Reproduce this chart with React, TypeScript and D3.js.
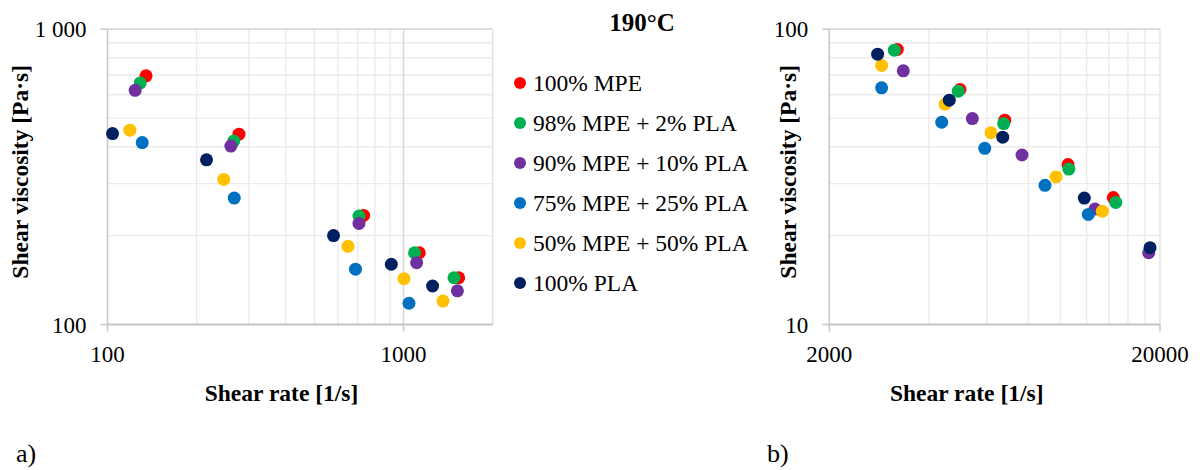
import React from 'react';
import * as d3 from 'd3';

// series (legend order = draw order)
const seriesNames = ['100% MPE', '98% MPE + 2% PLA', '90% MPE + 10% PLA', '75% MPE + 25% PLA', '50% MPE + 50% PLA', '100% PLA'];
const seriesColors = ['#FF0000', '#00B050', '#7030A0', '#0070C0', '#FFC000', '#002060'];

// panel a) shear rate [1/s] / shear viscosity [Pa·s]
const rateA = [
  [135, 278, 733, 1130, 1535],
  [129, 267, 707, 1089, 1480],
  [124, 261, 707, 1107, 1520],
  [131, 268, 688, 1043],
  [119, 247, 649, 1003, 1359],
  [104, 216, 580, 909, 1253],
];
const viscA = [
  [695, 441, 234, 175, 144],
  [658, 418, 233, 175, 144],
  [621, 402, 220, 162, 130],
  [413, 268, 154, 118],
  [455, 310, 184, 143, 120],
  [443, 361, 200, 160, 135],
];

// panel b)
const rateB = [
  [3211, 4970, 6785, 10542, 14450],
  [3145, 4910, 6735, 10600, 14700],
  [3348, 5414, 7651, 12720, 18490],
  [2879, 4375, 5903, 8980, 12140],
  [2879, 4477, 6166, 9697, 13385],
  [2800, 4612, 6690, 11806, 18660],
];
const viscB = [
  [85.4, 62.5, 49.2, 34.8, 26.9],
  [84.9, 61.7, 47.9, 33.6, 25.9],
  [72.3, 49.8, 37.5, 24.6, 17.5],
  [63.3, 48.4, 39.5, 29.6, 23.6],
  [75.4, 55.7, 44.6, 31.6, 24.2],
  [82.3, 57.5, 43.1, 26.8, 18.2],
];

// axes
const xTicksA = [100, 1000];
const xTickLabelsA = ['100', '1000'];
const yTicksA = [100, 1000];
const yTickLabelsA = ['100', '1 000'];
const xMinorA = [200, 300, 400, 500, 600, 700, 800, 900];
const yMinorA = [200, 300, 400, 500, 600, 700, 800, 900];

const xTicksB = [2000, 20000];
const xTickLabelsB = ['2000', '20000'];
const yTicksB = [10, 100];
const yTickLabelsB = ['10', '100'];
const xMinorB = [4000, 6000, 8000, 10000, 12000, 14000, 16000, 18000];
const yMinorB = [20, 30, 40, 50, 60, 70, 80, 90];

const font = '"Liberation Serif", "Times New Roman", serif';

type PanelProps = {
  left: number; right: number; top: number; bottom: number;
  xDomain: [number, number]; yDomain: [number, number];
  xTicks: number[]; xTickLabels: string[];
  yTicks: number[]; yTickLabels: string[];
  xMinor: number[]; yMinor: number[];
  xMajor: number[];
  rates: number[][]; viscs: number[][];
  xTitleX: number; yTitleX: number;
  tag: string; tagX: number;
};

function Panel(p: PanelProps) {
  const x = d3.scaleLog().domain(p.xDomain).range([p.left, p.right]);
  const y = d3.scaleLog().domain(p.yDomain).range([p.bottom, p.top]);
  const midY = (p.top + p.bottom) / 2 - 5;
  return (
    <g>
      {/* minor gridlines */}
      {p.xMinor.map(v => (
        <line key={'xm' + v} x1={x(v)} x2={x(v)} y1={p.top} y2={p.bottom} stroke="#ebebeb" strokeWidth={1.4} />
      ))}
      {p.yMinor.map(v => (
        <line key={'ym' + v} x1={p.left} x2={p.right} y1={y(v)} y2={y(v)} stroke="#ebebeb" strokeWidth={1.4} />
      ))}
      {/* major gridlines */}
      {p.xMajor.map(v => (
        <line key={'xM' + v} x1={x(v)} x2={x(v)} y1={p.top} y2={p.bottom} stroke="#d9d9d9" strokeWidth={1.5} />
      ))}
      <line x1={p.left} x2={p.right} y1={y(p.yDomain[1])} y2={y(p.yDomain[1])} stroke="#d9d9d9" strokeWidth={1.8} />
      <line x1={p.right} x2={p.right} y1={p.top} y2={p.bottom} stroke="#e3e3e3" strokeWidth={1.5} />
      {/* axes */}
      <line x1={p.left} x2={p.left} y1={p.top} y2={p.bottom} stroke="#c9c9c9" strokeWidth={1.6} />
      <line x1={p.left} x2={p.right} y1={p.bottom} y2={p.bottom} stroke="#c4c4c4" strokeWidth={1.8} />
      {p.yTicks.map(v => (
        <line key={'yt' + v} x1={p.left - 7} x2={p.left} y1={y(v)} y2={y(v)} stroke="#c9c9c9" strokeWidth={1.6} />
      ))}
      {p.xTicks.map(v => (
        <line key={'xt' + v} x1={x(v)} x2={x(v)} y1={p.bottom} y2={p.bottom + 7} stroke="#c9c9c9" strokeWidth={1.6} />
      ))}
      {p.yTicks.map((v, i) => (
        <text key={'yl' + v} x={p.left - 21} y={y(v) + 8} textAnchor="end" fontSize={23} fontFamily={font} fill="#000">
          {p.yTickLabels[i]}
        </text>
      ))}
      {p.xTicks.map((v, i) => (
        <text key={'xl' + v} x={x(v)} y={p.bottom + 37} textAnchor="middle" fontSize={23} fontFamily={font} fill="#000">
          {p.xTickLabels[i]}
        </text>
      ))}
      {/* points */}
      {p.rates.map((rs, s) => (
        <g key={'s' + s}>
          {rs.map((r, i) => (
            <circle key={i} cx={x(r)} cy={y(p.viscs[s][i])} r={6.5} fill={seriesColors[s]} />
          ))}
        </g>
      ))}
      {/* titles */}
      <text x={p.xTitleX} y={401} textAnchor="middle" fontSize={23.5} fontWeight="bold" fontFamily={font} fill="#000">
        Shear rate [1/s]
      </text>
      <text transform={`translate(${p.yTitleX},${midY}) rotate(-90)`} textAnchor="middle" fontSize={23.5} fontWeight="bold" fontFamily={font} fill="#000">
        Shear viscosity [Pa·s]
      </text>
      <text x={p.tagX} y={462} fontSize={26} fontFamily={font} fill="#000">{p.tag}</text>
    </g>
  );
}

export default function App() {
  return (
    <svg width={1200} height={470} style={{ position: 'absolute', left: 0, top: 0, background: '#fff' }}>
      <rect width={1200} height={470} fill="#fff" />
      <Panel
        left={107.5} right={492.7} top={29.2} bottom={324.5}
        xDomain={[100, 2000]} yDomain={[100, 1000]}
        xTicks={xTicksA} xTickLabels={xTickLabelsA}
        yTicks={yTicksA} yTickLabels={yTickLabelsA}
        xMinor={xMinorA} yMinor={yMinorA} xMajor={[1000]}
        rates={rateA} viscs={viscA}
        xTitleX={281.5} yTitleX={28} tag="a)" tagX={16}
      />
      <Panel
        left={829.3} right={1160} top={29.2} bottom={324.5}
        xDomain={[2000, 20000]} yDomain={[10, 100]}
        xTicks={xTicksB} xTickLabels={xTickLabelsB}
        yTicks={yTicksB} yTickLabels={yTickLabelsB}
        xMinor={xMinorB} yMinor={yMinorB} xMajor={[]}
        rates={rateB} viscs={viscB}
        xTitleX={966.7} yTitleX={796} tag="b)" tagX={767}
      />
      {/* legend */}
      <text x={642} y={31} textAnchor="middle" fontSize={25} fontWeight="bold" fontFamily={font} fill="#000">190°C</text>
      {seriesNames.map((name, i) => (
        <g key={name} transform={`translate(520,${83 + i * 40})`}>
          <circle r={6} fill={seriesColors[i]} />
          <text x={13} y={8} fontSize={23.5} fontFamily={font} fill="#000">{name}</text>
        </g>
      ))}
    </svg>
  );
}
